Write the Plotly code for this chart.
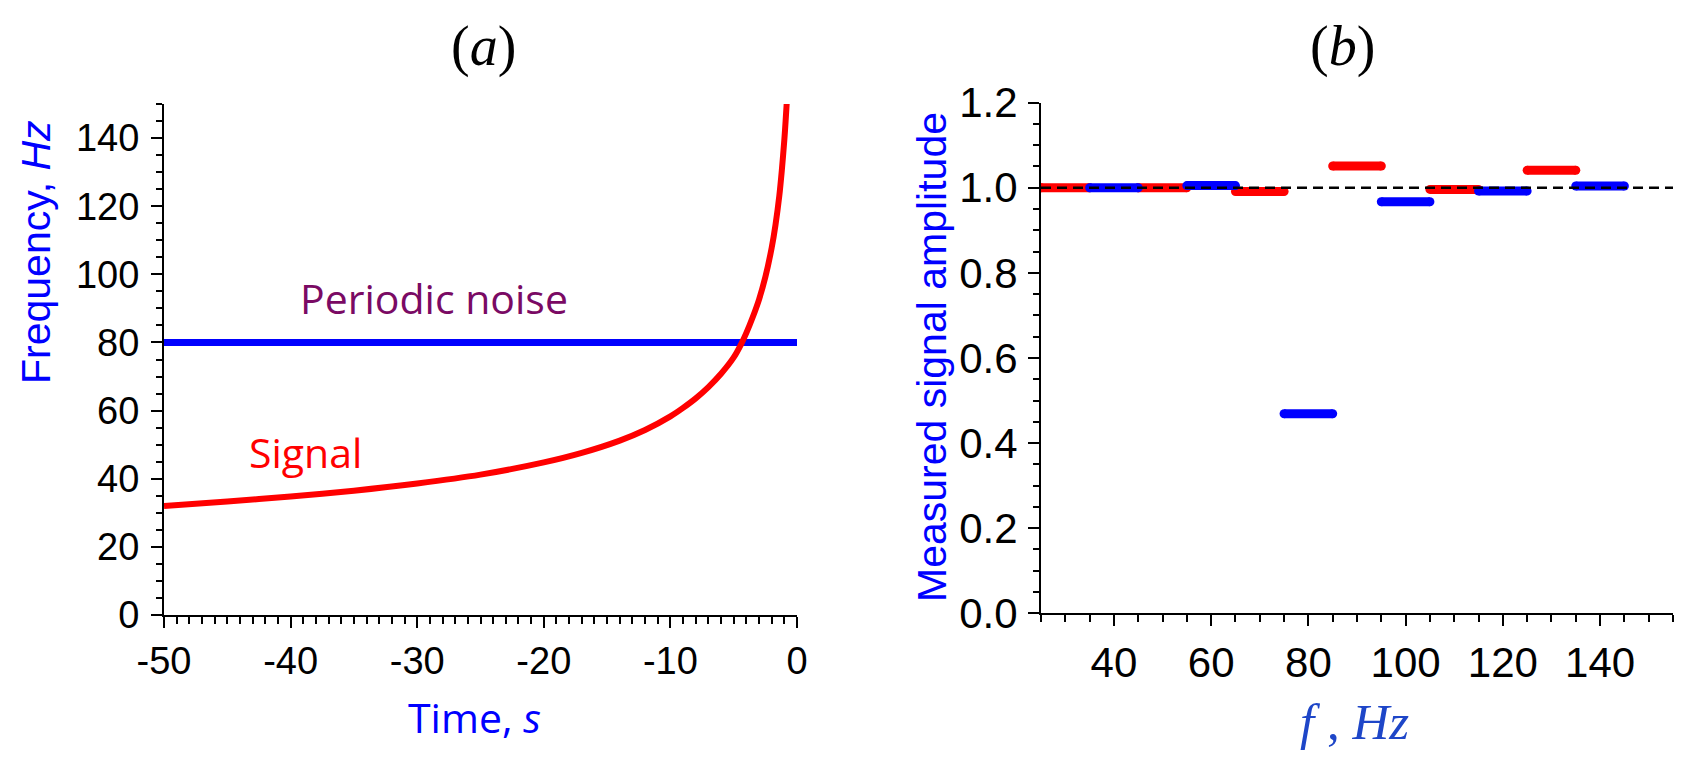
import plotly.graph_objects as go

# ---------------- data ----------------
# panel (a)
signal_t = [-50, -45, -40, -35, -30, -25, -20, -17, -14, -12, -10, -9, -8, -7, -6, -5,
            -4.4, -4, -3.5, -3, -2.5, -2, -1.7, -1.4, -1.2, -1.0, -0.9, -0.8]
signal_f = [32.0, 33.3, 34.8, 36.5, 38.6, 41.2, 44.8, 47.6, 51.2, 54.3, 58.3, 60.8, 63.6, 66.9, 70.8, 75.6,
            79.6, 82.8, 87.4, 92.6, 99.2, 107.8, 114.5, 123.0, 130.5, 139.5, 145.0, 151.0]
noise_t = [-50, 0]
noise_f = [80, 80]

x_a_ticks = [-50, -40, -30, -20, -10, 0]
x_a_labels = ["-50", "-40", "-30", "-20", "-10", "0"]

# panel (b)
red_f = [30, 50, 70, 90, 110, 130]
red_amp = [1.0, 1.0, 0.991, 1.051, 0.996, 1.041]
blue_f = [40, 60, 80, 100, 120, 140]
blue_amp = [1.0, 1.005, 0.469, 0.967, 0.992, 1.004]
band_halfwidth = 5
ref_f = [25, 155]
ref_amp = [1.0, 1.0]

W, H = 1694, 768


def px(x):
    return x / W


def py(y):
    return 1 - y / H


def segments(centers, values, hw):
    xs, ys = [], []
    for c, v in zip(centers, values):
        xs += [c - hw, c + hw, None]
        ys += [v, v, None]
    return xs, ys


fig = go.Figure()

# panel (a)
fig.add_trace(go.Scatter(x=noise_t, y=noise_f, mode="lines",
                         line=dict(color="#0000FF", width=7), xaxis="x", yaxis="y",
                         showlegend=False, hoverinfo="skip"))
fig.add_trace(go.Scatter(x=signal_t, y=signal_f, mode="lines",
                         line=dict(color="#FF0000", width=6, shape="spline", smoothing=0.8),
                         xaxis="x", yaxis="y", showlegend=False, hoverinfo="skip"))

# panel (b)  (bands with rounded ends)
for cs, vs, col in [(red_f, red_amp, "#FF0000"), (blue_f, blue_amp, "#0000FF")]:
    sx, sy = segments(cs, vs, band_halfwidth)
    fig.add_trace(go.Scatter(x=sx, y=sy, mode="lines+markers",
                             line=dict(color=col, width=9),
                             marker=dict(symbol="circle", size=9, color=col, line=dict(width=0)),
                             xaxis="x2", yaxis="y2", showlegend=False, hoverinfo="skip",
                             cliponaxis=True))
fig.add_trace(go.Scatter(x=ref_f, y=ref_amp, mode="lines",
                         line=dict(color="black", width=2.5, dash="10px,6px"),
                         xaxis="x2", yaxis="y2", showlegend=False, hoverinfo="skip"))

tickfont_l = dict(family="Liberation Sans, Arial, sans-serif", size=38, color="black")
tickfont_r = dict(family="Liberation Sans, Arial, sans-serif", size=42, color="black")

common = dict(showline=True, linecolor="black", linewidth=2, ticks="outside", ticklen=11,
              tickwidth=2, tickcolor="black", showgrid=False, zeroline=False, mirror=False,
              automargin=False, fixedrange=True)

fig.update_layout(
    width=W, height=H,
    margin=dict(l=0, r=0, t=0, b=0),
    paper_bgcolor="white", plot_bgcolor="white",
    showlegend=False,
    xaxis=dict(domain=[px(164), px(797)], range=[-50, 0],
               tickmode="array", tickvals=x_a_ticks, ticktext=x_a_labels,
               tickfont=tickfont_l, anchor="y",
               minor=dict(dtick=1, tick0=0, ticks="outside", ticklen=7, tickwidth=2, tickcolor="black"),
               **common),
    yaxis=dict(domain=[py(615), py(104)], range=[0, 150], dtick=20, tick0=0,
               tickfont=tickfont_l, anchor="x", ticklabelstandoff=4,
               minor=dict(dtick=5, ticks="outside", ticklen=6, tickwidth=2, tickcolor="black"),
               **common),
    xaxis2=dict(domain=[px(1041), px(1673)], range=[25, 155], dtick=20, tick0=0,
                tickfont=tickfont_r, anchor="y2",
                minor=dict(dtick=5, tick0=0, ticks="outside", ticklen=7, tickwidth=2, tickcolor="black"),
                **common),
    yaxis2=dict(domain=[py(613.3), py(102.6)], range=[0, 1.2], dtick=0.2, tick0=0,
                tickformat=".1f", tickfont=tickfont_r, anchor="x2", ticklabelstandoff=2,
                minor=dict(dtick=0.05, ticks="outside", ticklen=6, tickwidth=2, tickcolor="black"),
                **common),
)

serif = "Liberation Serif, Times New Roman, serif"
sans_t = "Open Sans, sans-serif"
arial = "Liberation Sans, Arial, sans-serif"

annotations = [
    # panel titles
    dict(text="(<i>a</i>)", x=px(483), y=py(46), font=dict(family=serif, size=56, color="black")),
    dict(text="(<i>b</i>)", x=px(1342), y=py(47), font=dict(family=serif, size=56, color="black")),
    # panel (a) axis titles
    dict(text="Time, <i>s</i>", x=px(474), y=py(717), font=dict(family=sans_t, size=41, color="#0000FF")),
    dict(text="Frequency, <i>Hz</i>", x=px(36), y=py(252), textangle=-90,
         font=dict(family=arial, size=41, color="#0000FF")),
    # panel (b) axis titles
    dict(text="Measured signal amplitude", x=px(932), y=py(357), textangle=-90,
         font=dict(family=arial, size=41, color="#0000FF")),
    dict(text="<i>f</i> , <i>Hz</i>", x=px(1354), y=py(722), font=dict(family=serif, size=51, color="#1E46C8")),
]
for a in annotations:
    a.update(xref="paper", yref="paper", showarrow=False, xanchor="center", yanchor="middle")

annotations += [
    dict(text="Periodic noise", x=-28.66, y=93.1, xref="x", yref="y", showarrow=False,
         xanchor="center", yanchor="middle", font=dict(family=sans_t, size=41, color="#7A0A64")),
    dict(text="Signal", x=-38.8, y=47.9, xref="x", yref="y", showarrow=False,
         xanchor="center", yanchor="middle", font=dict(family=sans_t, size=41, color="#FF0000")),
]
fig.update_layout(annotations=annotations)

fig.write_html("out.html")
